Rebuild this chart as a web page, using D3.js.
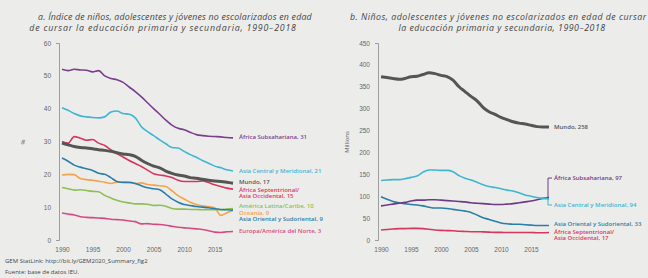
<!DOCTYPE html>
<html>
<head>
<meta charset="utf-8">
<script src="https://cdn.jsdelivr.net/npm/d3@7"></script>
<style>
  body { margin: 0; background: #ecedeb; }
  svg { display: block; font-family: "Open Sans", sans-serif; }
  .tick text { fill: #666; font-size: 6.5px; }
  .title { fill: #444; font-size: 8.8px; font-style: italic; letter-spacing: 0.2px; }
  .lbl { font-size: 6px; font-weight: 600; }
</style>
</head>
<body>
<div id="chart"></div>
<script>
// years 1990..2018
const years = d3.range(1990, 2019);

// panel a: rate of out-of-school (%)
const rateAfricaSub   = [52, 51.6, 52, 51.8, 51.7, 51.2, 51.6, 50, 49.2, 48.8, 48, 46.6, 45.2, 43.6, 41.8, 40, 38.3, 36.5, 35, 34, 33.6, 32.8, 32.1, 31.8, 31.6, 31.5, 31.4, 31.2, 31.1];
const rateAsiaCentral = [40.3, 39.5, 38.5, 37.8, 37.5, 37.3, 37.2, 37.5, 39, 39.3, 38.5, 38.3, 37.2, 34.5, 33, 31.8, 30.5, 29.3, 28.2, 28, 27, 26, 25.2, 24.2, 23.4, 22.5, 22, 21.4, 21];
const rateMundo       = [29.5, 29, 28.5, 28.2, 28, 27.8, 27.5, 27.3, 27, 26.6, 26.2, 26, 25.5, 24.3, 23.3, 22.5, 22, 21, 20.3, 19.8, 19.5, 19, 18.8, 18.5, 18.2, 18, 17.8, 17.6, 17.3];
const rateAfricaSept  = [30, 29.5, 31.5, 31, 30.4, 30.6, 29.5, 28.8, 27.5, 26.3, 25.3, 24.2, 23.3, 22.4, 21.3, 20.2, 19.8, 19.5, 19, 18.2, 17.8, 17.8, 17.8, 18, 17.5, 16.8, 16.3, 15.8, 15.5];
const rateLatAm       = [16, 15.6, 15.2, 15.3, 15.1, 14.8, 14.7, 13.6, 12.8, 12.1, 11.6, 11.3, 11, 11, 10.9, 10.5, 10.6, 10.3, 9.6, 9.4, 9.4, 9.3, 9.3, 9.2, 9.2, 9.2, 9.2, 9.4, 9.6];
const rateOceania     = [19.8, 20, 19.9, 18.7, 18.4, 18.2, 17.9, 17.6, 17.2, 17.6, 17.7, 17.4, 17.2, 17.4, 16.9, 16.7, 16.5, 16.3, 15, 13.5, 12.5, 11.5, 10.8, 10.4, 10.2, 9.8, 7.5, 8.3, 9];
const rateAsiaOr      = [25, 24, 22.8, 22.2, 21.7, 21.2, 20.3, 20, 19, 17.8, 17.5, 17.6, 17.2, 16.5, 15.9, 15.6, 15.3, 14, 12.5, 11.5, 10.8, 10.5, 10.2, 10, 9.8, 9.5, 9.3, 9.2, 9.1];
const rateEurope      = [8.2, 7.9, 7.6, 7.1, 6.9, 6.8, 6.7, 6.6, 6.3, 6.2, 6.1, 5.8, 5.6, 4.9, 5, 4.8, 4.7, 4.5, 4.2, 3.9, 3.7, 3.6, 3.4, 3.2, 2.8, 2.4, 2.3, 2.5, 2.6];

// panel b: number out of school (millions)
const numMundo        = [373, 371, 369, 367, 369, 373, 374, 378, 382, 380, 376, 373, 365, 350, 339, 328, 318, 303, 293, 287, 280, 275, 270, 267, 265, 262, 259, 258, 258];
const numAsiaCentral  = [136, 137, 138, 138, 140, 143, 146, 155, 160, 160, 159, 159, 156, 147, 141, 137, 132, 126, 122, 120, 117, 114, 112, 108, 103, 100, 97, 95, 94];
const numAfricaSub    = [78, 80, 82, 84, 86, 89, 91, 91, 92, 92, 91, 90, 89, 88, 87, 85, 84, 83, 82, 81, 81, 82, 83, 85, 87, 89, 92, 95, 97];
const numAsiaOr       = [99, 93, 88, 85, 83, 81, 80, 78, 75, 73, 73, 72, 70, 68, 66, 63, 57, 51, 47, 43, 39, 37, 36, 36, 35, 34, 33, 33, 33];
const numAfricaSept   = [23, 24, 25, 26, 26, 26.5, 26.5, 26, 24.5, 23, 22, 21.5, 21, 20, 19.5, 19, 19, 18.5, 18, 17.5, 17.5, 17, 17, 17, 17, 17, 16.5, 16.5, 17];

const xTicks = [1990, 1995, 2000, 2005, 2010, 2015];
const rateTicks = d3.range(0, 61, 10);
const numTicks = d3.range(0, 451, 50);

// series: values, colour, label lines, value where the label sits
const panelA = [
  {v: rateAfricaSub,   c: "#7b3d8d", w: 1.6, lab: ["África Subsahariana, 31"], at: 31.5},
  {v: rateAsiaCentral, c: "#3fb5d3", w: 1.6, lab: ["Asia Central y Meridional, 21"], at: 20.9},
  {v: rateAfricaSept,  c: "#d7375c", w: 1.6, lab: ["África Septentrional/", "Asia Occidental, 15"], at: 15.4},
  {v: rateLatAm,       c: "#8dbf52", w: 1.6, lab: ["América Latina/Caribe, 10"], at: 10.3},
  {v: rateOceania,     c: "#f5a24a", w: 1.6, lab: ["Oceania, 9"], at: 8.4},
  {v: rateAsiaOr,      c: "#2a7ea8", w: 1.6, lab: ["Asia Oriental y Sudoriental, 9"], at: 6.3},
  {v: rateEurope,      c: "#d64a84", w: 1.6, lab: ["Europa/América del Norte, 3"], at: 2.8},
  {v: rateMundo,       c: "#555555", w: 3,   lab: ["Mundo, 17"], at: 17.6}
];
const panelB = [
  {v: numAfricaSept,  c: "#d7375c", w: 1.6, lab: ["África Septentrional/", "Asia Occidental, 17"], at: 19},
  {v: numAsiaOr,      c: "#2a7ea8", w: 1.6, lab: ["Asia Oriental y Sudoriental, 33"], at: 36.5},
  {v: numAfricaSub,   c: "#6e3a85", w: 1.6, lab: ["África Subsahariana, 97"], at: 141.5, bracket: true},
  {v: numAsiaCentral, c: "#3fb5d3", w: 1.6, lab: ["Asia Central y Meridional, 94"], at: 80, bracket: true},
  {v: numMundo,       c: "#555555", w: 3,   lab: ["Mundo, 258"], at: 259}
];

const width = 648, height = 278;
const svg = d3.select("#chart").append("svg")
  .attr("width", width).attr("height", height);

svg.append("rect").attr("width", width).attr("height", height).attr("fill", "#ecedeb");

function panel(opts) {
  const x = d3.scaleLinear().domain([1990, 2018]).range(opts.xr);
  const y = d3.scaleLinear().domain([0, opts.max]).range([240, 43]);
  const g = svg.append("g");

  // y axis
  const ya = g.append("g").attr("transform", `translate(${opts.xr[0] - 3},0)`)
    .call(d3.axisLeft(y).tickValues(opts.ticks).tickSize(0).tickSizeOuter(3).tickPadding(8));
  ya.select(".domain").attr("stroke", "#888").attr("stroke-width", 0.8);

  // x axis, labels only
  const xa = g.append("g").attr("transform", "translate(0,243)")
    .call(d3.axisBottom(x).tickValues(xTicks).tickFormat(d3.format("d")).tickSize(0).tickPadding(4));
  xa.select(".domain").remove();

  g.append("text")
    .attr("transform", `translate(${opts.ylx},142) rotate(-90)`)
    .attr("text-anchor", "middle")
    .attr("fill", "#555").attr("font-size", "6px")
    .text(opts.ylab);

  const line = d3.line().x((d, i) => x(years[i])).y(d => y(d)).curve(d3.curveMonotoneX);

  g.selectAll(".series").data(opts.series).join("path")
    .attr("class", "series")
    .attr("d", d => line(d.v))
    .attr("fill", "none")
    .attr("stroke", d => d.c)
    .attr("stroke-width", d => d.w)
    .attr("stroke-linejoin", "round");

  const lx = x(2018) + opts.gap;
  opts.series.forEach(s => {
    if (s.bracket) {
      const bx = x(2018) - 1;
      g.append("path")
        .attr("d", `M${bx},${y(s.v[s.v.length - 1])}V${y(s.at)}H${lx - 2}`)
        .attr("fill", "none").attr("stroke", s.c).attr("stroke-width", 1);
    }
    const t = g.append("text").attr("class", "lbl").attr("fill", s.c)
      .attr("x", lx).attr("y", y(s.at));
    s.lab.forEach((l, i) => t.append("tspan").attr("x", lx).attr("dy", i ? "1.05em" : "0.35em").text(l));
  });
}

panel({xr: [62, 233], max: 60, ticks: rateTicks, series: panelA, ylab: "%", ylx: 25, gap: 6});
panel({xr: [381, 549], max: 450, ticks: numTicks, series: panelB, ylab: "Millions", ylx: 349, gap: 5});

// titles
svg.append("text").attr("class", "title").attr("x", 175).attr("y", 20).attr("text-anchor", "middle")
  .text("a. Índice de niños, adolescentes y jóvenes no escolarizados en edad");
svg.append("text").attr("class", "title").attr("x", 163).attr("y", 31).attr("text-anchor", "middle")
  .style("letter-spacing", "0.8px")
  .text("de cursar la educación primaria y secundaria, 1990–2018");
svg.append("text").attr("class", "title").attr("x", 350).attr("y", 20)
  .style("letter-spacing", "0.5px")
  .text("b. Niños, adolescentes y jóvenes no escolarizados en edad de cursar");
svg.append("text").attr("class", "title").attr("x", 502).attr("y", 31).attr("text-anchor", "middle")
  .style("letter-spacing", "0.5px")
  .text("la educación primaria y secundaria, 1990–2018");

// footer
svg.append("text").attr("x", 5).attr("y", 263).attr("font-size", "6px").attr("fill", "#444")
  .text("GEM StatLink: http://bit.ly/GEM2020_Summary_fig2");
svg.append("text").attr("x", 5).attr("y", 274).attr("font-size", "6px").attr("fill", "#444")
  .text("Fuente: base de datos IEU.");
</script>
</body>
</html>
